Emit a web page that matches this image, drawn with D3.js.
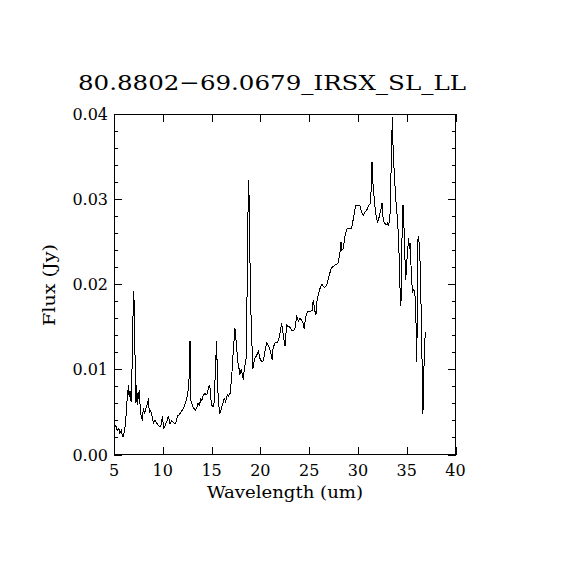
<!DOCTYPE html>
<html>
<head>
<meta charset="utf-8">
<script src="https://cdn.jsdelivr.net/npm/d3@7"></script>
<style>
  body { margin: 0; background: #fff; }
  text { font-family: "DejaVu Serif", serif; fill: #000; }
  path, line, rect { shape-rendering: crispEdges; }
</style>
</head>
<body>
<div class="spectrum-plot"></div>
<script>
// spectrum
const wavelength = [5.05,5.07,5.2,5.35,5.5,5.6,5.75,5.85,5.95,6.05,6.2,6.3,6.4,6.47,6.55,6.65,6.75,6.8,6.9,6.98,
  7.05,7.15,7.25,7.32,7.42,7.5,7.6,7.7,7.77,7.9,8.0,8.1,8.15,8.3,8.45,8.52,8.62,8.75,8.85,9.03,
  9.2,9.37,9.5,9.65,9.8,9.96,10.1,10.3,10.45,10.57,10.75,10.9,11.05,11.3,11.5,11.7,11.87,12.0,12.2,12.35,
  12.55,12.7,12.79,12.82,12.85,13.08,13.35,13.5,13.6,13.75,13.9,14.0,14.1,14.3,14.5,14.77,14.85,14.98,15.2,15.3,
  15.38,15.52,15.58,15.7,15.86,16.0,16.15,16.3,16.45,16.6,16.72,16.9,17.06,17.23,17.4,17.5,17.74,17.85,17.9,18.05,
  18.25,18.35,18.53,18.6,18.7,18.77,18.83,18.9,19.06,19.23,19.4,19.6,19.8,19.95,20.14,20.3,20.45,20.65,20.8,20.95,
  21.23,21.3,21.5,21.75,21.95,22.18,22.35,22.52,22.7,22.85,23.0,23.2,23.35,23.55,23.72,23.9,24.05,24.2,24.35,24.5,
  24.65,24.85,25.1,25.3,25.43,25.55,25.7,25.8,25.95,26.11,26.3,26.55,26.8,27.05,27.26,27.6,27.99,28.16,28.27,28.35,
  28.5,28.7,28.9,29.1,29.35,29.53,29.6,29.77,30.0,30.2,30.35,30.55,30.75,30.95,31.1,31.24,31.35,31.44,31.5,31.65,
  31.8,32.02,32.15,32.3,32.47,32.55,32.7,32.9,33.05,33.12,33.28,33.36,33.46,33.53,33.6,33.7,33.85,33.95,34.05,34.15,
  34.25,34.32,34.4,34.45,34.5,34.55,34.62,34.7,34.8,34.9,34.98,35.1,35.2,35.28,35.35,35.5,35.6,35.72,35.84,35.95,
  36.0,36.08,36.16,36.25,36.36,36.47,36.6,36.66,36.72,36.78,36.9];
const flux = [0.0060,0.0035,0.0033,0.0028,0.0031,0.0025,0.0028,0.0022,0.0021,0.0026,0.0038,0.0060,0.0070,0.0082,0.0068,0.0075,0.0062,0.0087,0.0117,0.0192,
  0.0181,0.0119,0.0060,0.0082,0.0058,0.0072,0.0074,0.0052,0.0046,0.0040,0.0054,0.0050,0.0048,0.0056,0.0060,0.0066,0.0050,0.0052,0.0048,0.0037,
  0.0040,0.0037,0.0035,0.0033,0.0033,0.0045,0.0030,0.0036,0.0040,0.0045,0.0036,0.0040,0.0038,0.0036,0.0045,0.0047,0.0050,0.0052,0.0056,0.0062,
  0.0070,0.0090,0.0133,0.0110,0.0065,0.0056,0.0052,0.0056,0.0060,0.0058,0.0065,0.0063,0.0068,0.0072,0.0070,0.0082,0.0078,0.0058,0.0056,0.0064,
  0.0099,0.0133,0.0099,0.0060,0.0048,0.0054,0.0060,0.0066,0.0062,0.0070,0.0068,0.0072,0.0091,0.0123,0.0148,0.0135,0.0103,0.0100,0.0094,0.0100,
  0.0088,0.0100,0.0111,0.0154,0.0248,0.0323,0.0311,0.0248,0.0154,0.0101,0.0112,0.0116,0.0121,0.0113,0.0109,0.0110,0.0120,0.0131,0.0128,0.0125,
  0.0111,0.0125,0.0131,0.0131,0.0138,0.0154,0.0140,0.0127,0.0152,0.0150,0.0150,0.0146,0.0145,0.0148,0.0162,0.0157,0.0160,0.0158,0.0155,0.0148,
  0.0162,0.0168,0.0168,0.0169,0.0182,0.0170,0.0164,0.0180,0.0188,0.0195,0.0200,0.0196,0.0199,0.0210,0.0219,0.0222,0.0225,0.0238,0.0250,0.0240,
  0.0242,0.0258,0.0266,0.0266,0.0266,0.0277,0.0282,0.0293,0.0293,0.0293,0.0285,0.0281,0.0285,0.0288,0.0293,0.0294,0.0310,0.0344,0.0325,0.0303,
  0.0285,0.0272,0.0278,0.0285,0.0295,0.0280,0.0272,0.0270,0.0272,0.0268,0.0278,0.0315,0.0366,0.0397,0.0362,0.0336,0.0305,0.0290,0.0277,0.0256,
  0.0225,0.0192,0.0174,0.0193,0.0254,0.0256,0.0293,0.0275,0.0236,0.0205,0.0222,0.0240,0.0254,0.0242,0.0248,0.0205,0.0191,0.0194,0.0189,0.0158,
  0.0109,0.0150,0.0256,0.0252,0.0229,0.0175,0.0091,0.0048,0.0072,0.0108,0.0144];

const xTicks = [5,10,15,20,25,30,35,40];
const yTicks = [0,0.01,0.02,0.03,0.04];
const yMinor = d3.range(0,0.0401,0.002);

const title = "80.8802\u221269.0679_IRSX_SL_LL";

function renderPlot(){
	const width=570, height=570;
	const left=114, right=455.5, top=114, bottom=454.5;

	const svg=d3.select('.spectrum-plot')
		.append('svg')
		.attr('width',width)
		.attr('height',height)

	const x=d3.scaleLinear().domain([5,40]).range([left,right]);
	const y=d3.scaleLinear().domain([0,0.04]).range([bottom,top]);

	// frame
	svg.append('rect')
		.attr('x',left).attr('y',top)
		.attr('width',right-left).attr('height',bottom-top)
		.attr('fill','none').attr('stroke','#000').attr('stroke-width',1)

	// ticks drawn inward on all four sides
	const tickLine=(axis,size)=>axis.tickSize(size).tickFormat('');
	svg.append('g').attr('transform',`translate(0,${bottom})`)
		.call(tickLine(d3.axisTop(x).tickValues(xTicks),8))
	svg.append('g').attr('transform',`translate(0,${top})`)
		.call(tickLine(d3.axisBottom(x).tickValues(xTicks),8))
	svg.append('g').attr('transform',`translate(${left},0)`)
		.call(tickLine(d3.axisRight(y).tickValues(yMinor),4))
	svg.append('g').attr('transform',`translate(${left},0)`)
		.call(tickLine(d3.axisRight(y).tickValues(yTicks),8))
	svg.append('g').attr('transform',`translate(${right},0)`)
		.call(tickLine(d3.axisLeft(y).tickValues(yMinor),4))
	svg.append('g').attr('transform',`translate(${right},0)`)
		.call(tickLine(d3.axisLeft(y).tickValues(yTicks),8))
	svg.selectAll('.domain').remove();
	svg.selectAll('.tick line').attr('stroke','#000');

	// tick labels
	svg.selectAll('text.xlab')
		.data(xTicks)
		.enter()
		.append('text')
		.attr('x',d=>x(d))
		.attr('y',bottom+21)
		.attr('font-size',16)
		.attr('text-anchor','middle')
		.text(d=>d)

	svg.selectAll('text.ylab')
		.data(yTicks)
		.enter()
		.append('text')
		.attr('x',left-6)
		.attr('y',d=>y(d)+6)
		.attr('font-size',16)
		.attr('text-anchor','end')
		.text(d=>d3.format('.2f')(d))

	// spectrum
	const pts=wavelength.map((w,i)=>[w,flux[i]]);
	svg.append('path')
		.datum(pts)
		.attr('fill','none')
		.attr('stroke','#000')
		.attr('stroke-width',1)
		.attr('d',d3.line().x(d=>x(d[0])).y(d=>y(d[1])))

	svg.append('text')
		.attr('x',272).attr('y',90)
		.attr('font-size',21)
		.attr('text-anchor','middle')
		.attr('textLength',388)
		.attr('lengthAdjust','spacingAndGlyphs')
		.text(title)

	svg.append('text')
		.attr('x',285).attr('y',498)
		.attr('font-size',16)
		.attr('text-anchor','middle')
		.attr('textLength',156)
		.attr('lengthAdjust','spacingAndGlyphs')
		.text('Wavelength (um)')

	svg.append('text')
		.attr('transform','translate(55,285) rotate(-90)')
		.attr('font-size',16)
		.attr('text-anchor','middle')
		.attr('textLength',82)
		.attr('lengthAdjust','spacingAndGlyphs')
		.text('Flux (Jy)')
}

renderPlot();
</script>
</body>
</html>
